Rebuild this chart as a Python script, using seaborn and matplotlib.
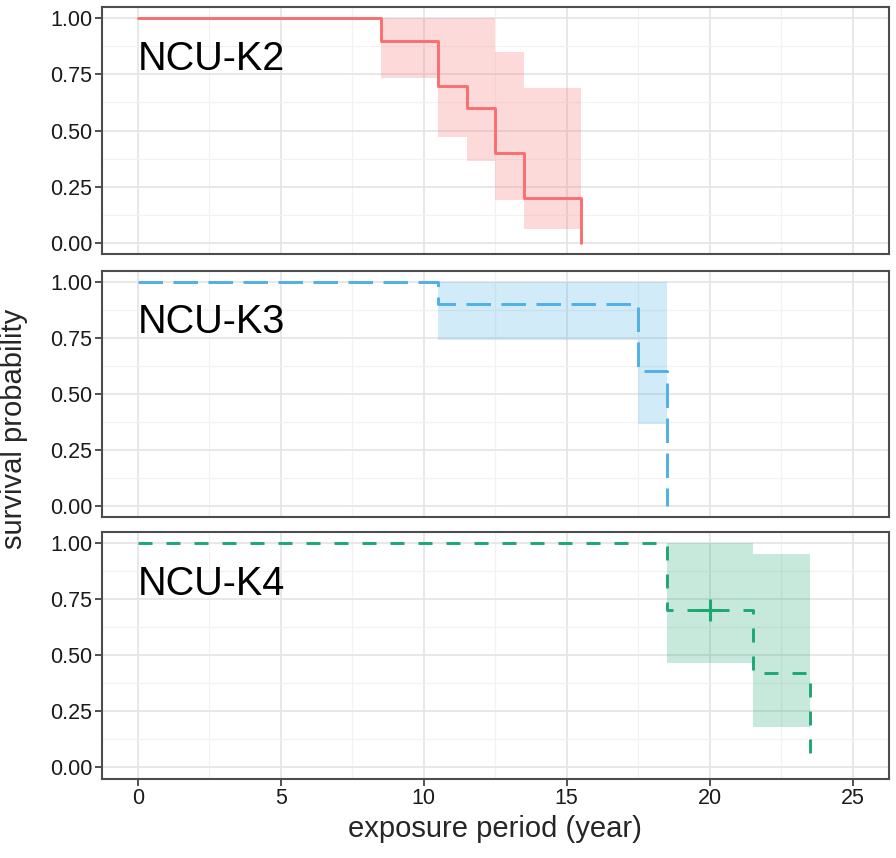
import numpy as np
import pandas as pd
import matplotlib
matplotlib.use("Agg")
import matplotlib.pyplot as plt
import seaborn as sns
from matplotlib.ticker import MultipleLocator

# ---- data ----
groups = ["NCU-K2", "NCU-K3", "NCU-K4"]

k2_time = [0, 8.5, 10.5, 11.5, 12.5, 13.5, 15.5]
k2_surv = [1.0, 0.9, 0.7, 0.6, 0.4, 0.2, 0.0]
k2_ci_time = [8.5, 10.5, 11.5, 12.5, 13.5, 15.5]
k2_ci_low = [0.733, 0.470, 0.364, 0.192, 0.062, 0.062]
k2_ci_up = [1.0, 1.0, 1.0, 0.851, 0.689, 0.689]

k3_time = [0, 10.5, 17.5, 18.5]
k3_surv = [1.0, 0.9, 0.6, 0.0]
k3_ci_time = [10.5, 17.5, 18.5]
k3_ci_low = [0.738, 0.366, 0.366]
k3_ci_up = [1.0, 1.0, 1.0]

k4_time = [0, 18.5, 21.5, 23.5]
k4_surv = [1.0, 0.7, 0.42, 0.0]
k4_ci_time = [18.5, 21.5, 23.5]
k4_ci_low = [0.465, 0.182, 0.182]
k4_ci_up = [1.0, 0.953, 0.953]
k4_censor_time = [20.0]
k4_censor_surv = [0.7]

x_ticks = [0, 5, 10, 15, 20, 25]
y_ticks = [0.0, 0.25, 0.5, 0.75, 1.0]
y_ticklabels = ["0.00", "0.25", "0.50", "0.75", "1.00"]

colors = ["#FA6E6E", "#4FB0E6", "#1DA872"]
dashes = [None, (8.4, 3.6), (4.8, 4.8)]

# ---- figure ----
sns.set_theme(style="white")
plt.rcParams["font.family"] = ["Liberation Sans", "DejaVu Sans"]

fig = plt.figure(figsize=(8.96, 8.58), dpi=100)
left, width = 102 / 896, 786.5 / 896
panels = [
    (1 - 254 / 858, 247 / 858),
    (1 - 517 / 858, 246.5 / 858),
    (1 - 778.5 / 858, 246.5 / 858),
]

series = [
    (k2_time, k2_surv, k2_ci_time, k2_ci_low, k2_ci_up),
    (k3_time, k3_surv, k3_ci_time, k3_ci_low, k3_ci_up),
    (k4_time, k4_surv, k4_ci_time, k4_ci_low, k4_ci_up),
]

axes = []
for i, ((b, h), (t, s, ct, cl, cu)) in enumerate(zip(panels, series)):
    ax = fig.add_axes([left, b, width, h])
    axes.append(ax)
    ax.set_facecolor("white")
    # grid
    ax.xaxis.set_major_locator(MultipleLocator(5))
    ax.xaxis.set_minor_locator(MultipleLocator(2.5))
    ax.yaxis.set_major_locator(MultipleLocator(0.25))
    ax.yaxis.set_minor_locator(MultipleLocator(0.125))
    ax.grid(which="major", color="#E6E6E6", lw=1.3, zorder=0)
    ax.grid(which="minor", color="#F2F2F2", lw=0.9, zorder=0)
    ax.set_axisbelow(True)

    # ribbon
    ax.fill_between(ct, cl, cu, step="post", color=colors[i], alpha=0.25,
                    lw=0, zorder=1)
    # step curve
    df = pd.DataFrame({"time": t, "surv": s})
    sns.lineplot(data=df, x="time", y="surv", ax=ax, color=colors[i],
                 lw=2.1, estimator=None, sort=False, legend=False,
                 zorder=3, drawstyle="steps-post")
    if dashes[i] is not None:
        ax.lines[-1].set_dashes(dashes[i])

    if i == 2:
        dfc = pd.DataFrame({"time": k4_censor_time, "surv": k4_censor_surv})
        sns.scatterplot(data=dfc, x="time", y="surv", ax=ax, marker="+",
                        s=260, color=colors[i], linewidth=2.2, zorder=4,
                        legend=False)

    ax.text(0, 0.77, groups[i], fontsize=28.5, ha="left", va="baseline",
            color="black", zorder=5)

    ax.set_xlim(-1.25, 26.25)
    ax.set_ylim(-0.05, 1.05)
    ax.set_yticks(y_ticks)
    ax.set_yticklabels(y_ticklabels)
    ax.set_xticks(x_ticks)
    ax.set_xlabel("")
    ax.set_ylabel("")
    for sp in ax.spines.values():
        sp.set_visible(True)
        sp.set_color("#4D4D4D")
        sp.set_linewidth(1.5)
    ax.tick_params(axis="y", which="major", left=True, length=5,
                   width=1.2, color="#333333", labelsize=15.5, pad=2,
                   labelcolor="#1a1a1a")
    ax.tick_params(which="minor", length=0)
    if i < 2:
        ax.tick_params(axis="x", which="major", bottom=False,
                       labelbottom=False)
    else:
        ax.tick_params(axis="x", which="major", bottom=True, length=5,
                       width=1.2, color="#333333", labelsize=15.5, pad=2,
                       labelcolor="#1a1a1a")

axes[2].set_xlabel("exposure period (year)", fontsize=21, labelpad=4)
fig.text(0.016, 0.5, "survival probability", rotation=90, fontsize=21,
         ha="center", va="center")

fig.savefig("out.png", dpi=100)
